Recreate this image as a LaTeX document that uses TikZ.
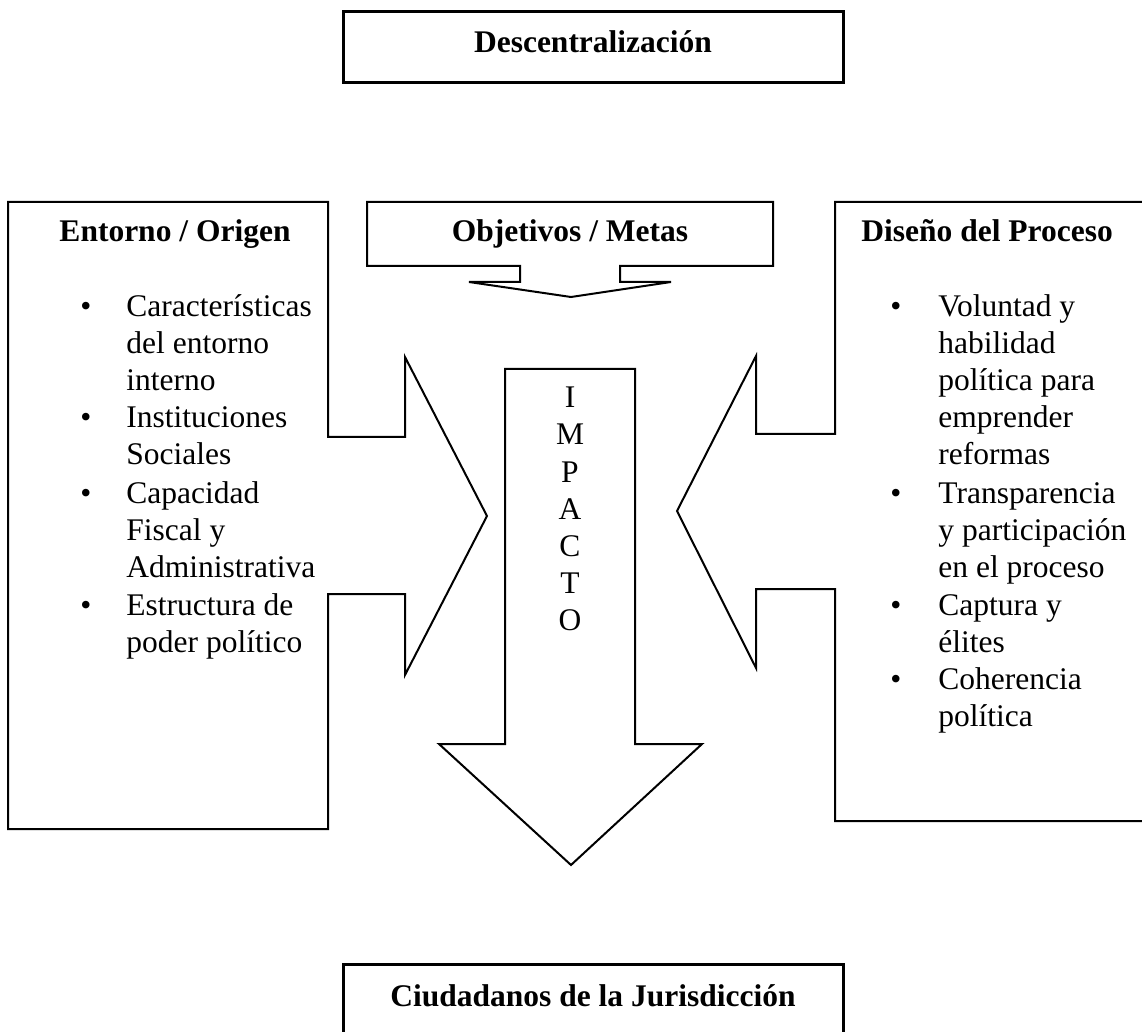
\documentclass[tikz,border=0pt]{standalone}
\usepackage{fontspec}
\setmainfont{Liberation Serif}
\usepackage{tikz}
\tikzstyle{block arrow}=[draw=black,line width=1pt,line join=miter]
\tikzstyle{frame box}=[draw=black,line width=1.5pt]
\tikzstyle{heading}=[inner sep=0pt,anchor=base,font=\fontsize{15.75}{18.6}\selectfont\bfseries]
\tikzstyle{item}=[inner sep=0pt,anchor=base west,font=\fontsize{15.75}{18.6}\selectfont]
\tikzstyle{dot}=[inner sep=0pt,anchor=base,font=\fontsize{15.75}{18.6}\selectfont]
\tikzstyle{letter}=[dot]

\begin{document}
\begin{tikzpicture}[x=0.5pt,y=-0.5pt]
    \useasboundingbox (0,0) rectangle (1142,1032);
    \clip (0,0) rectangle (1142,1032);
    % Top and bottom boxes
    \draw[frame box] (343,12) rectangle (843,83);
    \node[heading] (desc) at (593,53) {Descentralización};
    \draw[frame box] (343,1060) -- (343,964) -- (843,964) -- (843,1060);
    \node[heading] (ciud) at (593,1006) {Ciudadanos de la Jurisdicción};

    % The block arrows
    \draw[block arrow] (8,202) -- (328,202) -- (328,437) -- (405,437) -- (405,357)
        -- (487,516) -- (405,675) -- (405,594) -- (328,594) -- (328,829) -- (8,829) -- cycle;
    \draw[block arrow] (1160,202) -- (835,202) -- (835,434) -- (756,434) -- (756,356)
        -- (677,511) -- (756,668) -- (756,589) -- (835,589) -- (835,821) -- (1160,821);
    \draw[block arrow] (367,202) -- (773,202) -- (773,266) -- (620,266) -- (620,282) -- (671,282)
        -- (571,297) -- (469,282) -- (520,282) -- (520,266) -- (367,266) -- cycle;
    \draw[block arrow] (505,369) -- (635,369) -- (635,744) -- (702,744) -- (571,865)
        -- (439,744) -- (505,744) -- cycle;

    % Headings
    \node[heading] (ent) at (175,242) {Entorno / Origen};
    \node[heading] (obj) at (570,242) {Objetivos / Metas};
    \node[heading,anchor=base west] (dis) at (861,242) {Diseño del Proceso};

    % Left list
    \foreach \y/\txt [count=\i] in {317/Características, 354/del entorno, 391/interno,
        428/Instituciones, 465/Sociales, 503/Capacidad, 540/Fiscal y,
        577/Administrativa, 615/Estructura de, 652/poder político}
        \node[item] (ent\i) at (126,\y) {\txt};
    \foreach \y [count=\i] in {317,428,503,615}
        \node[dot] (entb\i) at (86,\y) {\textbullet};

    % Right list
    \foreach \y/\txt [count=\i] in {317/Voluntad y, 354/habilidad, 391/política para,
        428/emprender, 465/reformas, 503/Transparencia, 540/y participación,
        577/en el proceso, 615/Captura y, 652/élites, 689/Coherencia, 726/política}
        \node[item] (dis\i) at (938,\y) {\txt};
    \foreach \y [count=\i] in {317,503,615,689}
        \node[dot] (disb\i) at (896,\y) {\textbullet};

    % IMPACTO written downwards
    \foreach \l [count=\i] in {I,M,P,A,C,T,O}
        \node[letter] (imp\i) at (570,371+37*\i) {\l};
\end{tikzpicture}
\end{document}
